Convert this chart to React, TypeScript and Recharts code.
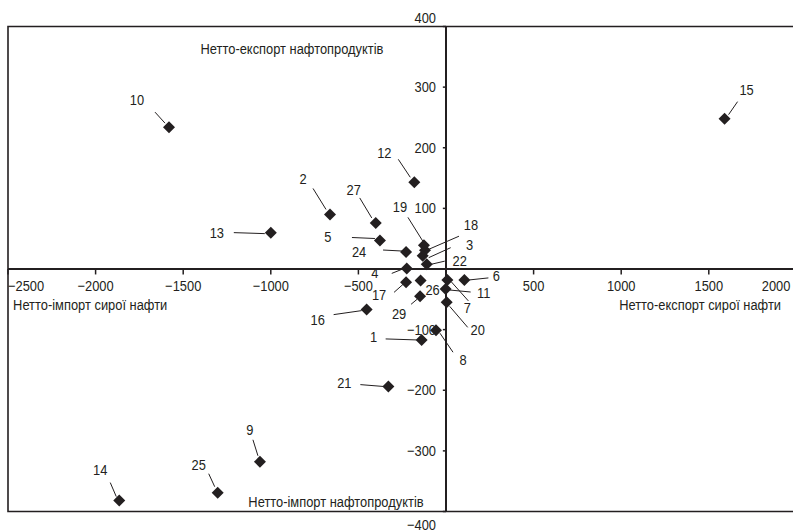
import {
  ScatterChart,
  Scatter,
  XAxis,
  YAxis,
  ReferenceLine,
  ReferenceArea,
  ReferenceDot,
} from 'recharts'

// country numbers as printed next to the markers
const POINT_IDS = [1, 2, 3, 4, 5, 6, 7, 8, 9, 10, 11, 12, 13, 14, 15, 16, 17, 18, 19, 20, 21, 22, 24, 25, 26, 27, 29]
// net crude oil trade (x) and net oil products trade (y)
const CRUDE_NET = [-139, -662, -133, -224, -377, 105, 8, -57, -1062, -1581, -2, -181, -1000, -1865, 1590, -453, -228, -120, -126, 4, -329, -110, -228, -1303, -145, -401, -148]
const PRODUCT_NET = [-117, 90, 22, 1, 47, -18, -18, -101, -318, 234, -33, 143, 60, -382, 248, -67, -22, 31, 39, -55, -194, 8, 28, -369, -19, 76, -45]

const X_TICKS = [-2500, -2000, -1500, -1000, -500, 500, 1000, 1500, 2000]
const Y_TICKS = [400, 300, 200, 100, -100, -200, -300, -400]

const INK = '#231f20'
const FONT = "'Liberation Sans', Arial, sans-serif"
const SQUEEZE = 0.86 // narrow the face to look like the condensed original

// label placement next to each marker: [labelDx, labelDy, lineX1, lineY1, lineX2, lineY2]
const LABEL_LAYOUT: Record<number, number[]> = {
  1: [-48, -3, -36, -1, -5, 0],
  2: [-27, -35, -17, -26, -4, -5],
  3: [47, -11, 28, -8, 6, 2],
  4: [-32, 5, -15, 5, -5, 1],
  5: [-52, -4, -28, -3, -5, -2],
  6: [32, -4, 24, -2, 5, 0],
  7: [20, 28, 21, 21, 4, 2],
  8: [27, 30, 17, 22, 4, 3],
  9: [-10, -32, -7, -22, -2, -6],
  10: [-32, -27, -14, -15, -4, -4],
  11: [38, 4, 25, 3, 4, 1],
  12: [-30, -29, -16, -23, -4, -5],
  13: [-54, 0, -37, 0, -6, 1],
  14: [-19, -31, -9, -18, -3, -4],
  15: [22, -29, 13, -17, 4, -4],
  16: [-49, 10, -33, 5, -5, 1],
  17: [-27, 13, -12, 10, -3, 2],
  18: [46, -25, 34, -14, 4, -1],
  19: [-24, -38, -16, -28, -1, -4],
  20: [31, 28, 21, 25, 3, 4],
  21: [-44, -4, -28, -2, -3, 0],
  22: [33, -3, 18, -3, 5, 0],
  24: [-47, 0, -23, -2, -4, -1],
  25: [-19, -28, -9, -19, -3, -6],
  26: [12, 9],
  27: [-22, -33, -16, -25, -4, -5],
  29: [-21, 18, -9, 8, -3, 3],
}

const QUADRANT_TEXT = [
  { text: 'Нетто-експорт нафтопродуктів', x: -879, y: 363, anchor: 'middle' },
  { text: 'Нетто-імпорт нафтопродуктів', x: -628, y: -384, anchor: 'middle' },
  { text: 'Нетто-імпорт сирої нафти', x: -2471, y: -60, anchor: 'start' },
  { text: 'Нетто-експорт сирої нафти', x: 1912, y: -60, anchor: 'end' },
]

const data = POINT_IDS.map((id, i) => ({ id, x: CRUDE_NET[i], y: PRODUCT_NET[i] }))

const fmt = (v: number) => (v < 0 ? '\u2212' + Math.abs(v) : String(v))

function Txt({ x, y, anchor = 'middle', children }: { x: number; y: number; anchor?: string; children: any }) {
  return (
    <text
      transform={`translate(${x},${y}) scale(${SQUEEZE},1)`}
      textAnchor={anchor as any}
      fontSize={15}
      fontFamily={FONT}
      fill={INK}
    >
      {children}
    </text>
  )
}

function Marker(props: any) {
  const { cx, cy, payload } = props
  const s = 6
  const lay = LABEL_LAYOUT[payload.id] || [14, -14]
  return (
    <g>
      {lay.length > 2 && (
        <line x1={cx + lay[2]} y1={cy + lay[3]} x2={cx + lay[4]} y2={cy + lay[5]} stroke={INK} strokeWidth={1} />
      )}
      <polygon
        points={`${cx},${cy - s} ${cx + s},${cy} ${cx},${cy + s} ${cx - s},${cy}`}
        fill={INK}
      />
      <Txt x={cx + lay[0]} y={cy + lay[1] + 5}>{payload.id}</Txt>
    </g>
  )
}

export default function App() {
  return (
    <div style={{ position: 'fixed', left: 0, top: 0, width: 793, height: 531, overflow: 'hidden', background: '#fff' }}>
      <ScatterChart width={800} height={531} margin={{ top: 26.5, right: 3.6, bottom: 19.5, left: 8 }}>
        <XAxis type="number" dataKey="x" domain={[-2500, 2000]} hide />
        <YAxis type="number" dataKey="y" domain={[-400, 400]} hide />
        <ReferenceArea x1={-2500} x2={2000} y1={-400} y2={400} fill="none" stroke={INK} strokeWidth={1.6} />
        <ReferenceLine x={0} stroke={INK} strokeWidth={2} />
        <ReferenceLine y={0} stroke={INK} strokeWidth={2} />
        {X_TICKS.map((v) => (
          <ReferenceLine key={'xt' + v} segment={[{ x: v, y: 0 }, { x: v, y: -9 }]} stroke={INK} strokeWidth={1.5} />
        ))}
        {Y_TICKS.map((v) => (
          <ReferenceLine key={'yt' + v} segment={[{ x: -18, y: v }, { x: 0, y: v }]} stroke={INK} strokeWidth={1.5} />
        ))}
        {X_TICKS.map((v) => (
          <ReferenceDot
            key={'xl' + v}
            x={v}
            y={0}
            r={0}
            shape={(p: any) => {
              const anchor = v === -2500 ? 'start' : v === 2000 ? 'end' : 'middle'
              const x = v === 2000 ? p.cx - 6 : p.cx
              return <Txt x={x} y={p.cy + 22} anchor={anchor}>{fmt(v)}</Txt>
            }}
          />
        ))}
        {Y_TICKS.map((v) => (
          <ReferenceDot
            key={'yl' + v}
            x={0}
            y={v}
            r={0}
            shape={(p: any) => {
              const shift = v === 400 ? -9 : v === -400 ? 13 : 0
              return <Txt x={p.cx - 10} y={p.cy + shift + 5} anchor="end">{fmt(v)}</Txt>
            }}
          />
        ))}
        {QUADRANT_TEXT.map((q) => (
          <ReferenceDot
            key={q.text}
            x={q.x}
            y={q.y}
            r={0}
            shape={(p: any) => <Txt x={p.cx} y={p.cy + 5} anchor={q.anchor}>{q.text}</Txt>}
          />
        ))}
        <Scatter data={data} shape={<Marker />} isAnimationActive={false} />
      </ScatterChart>
    </div>
  )
}
